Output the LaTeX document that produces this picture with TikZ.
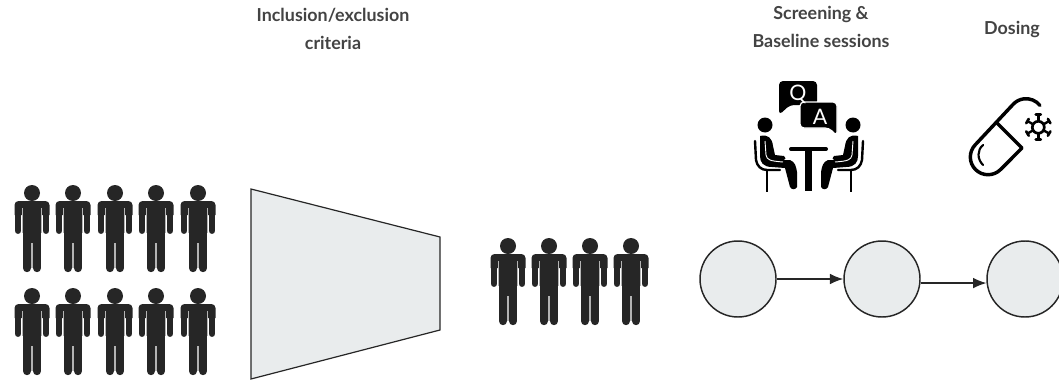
\documentclass[tikz,border=0pt]{standalone}
\usepackage{fontspec}
\setmainfont{Lato}[BoldFont={Lato Bold}]
\usetikzlibrary{arrows.meta}
\definecolor{ink}{HTML}{262626}
\definecolor{pale}{HTML}{E9ECED}
\definecolor{head}{HTML}{434343}
\definecolor{seam}{HTML}{B4B4B4}
\tikzset{
  x=0.75pt,y=-0.75pt,
  title/.style={font=\bfseries\fontsize{13.4pt}{21pt}\selectfont,text=head,align=center,inner sep=0},
  state/.style={circle,draw=ink,fill=pale,line width=1.1pt,minimum size=57pt,inner sep=0},
  link/.style={draw=ink,line width=1.1pt,-{Latex[length=10pt,width=8pt]}},
  icon/.style={draw=black,line width=2.6pt,line cap=round,line join=round},
  letter/.style={inner sep=0,text=white,font=\fontsize{16pt}{16pt}\selectfont},
  person/.pic={
    \fill[ink] (0,0) circle (8);
    \fill[ink,rounded corners=3pt] (-17.5,22) -- (-17.5,8) -- (17.5,8) -- (17.5,22);
    \fill[ink] (-9,10) rectangle (9,50);
    \draw[ink,line width=5.2pt,line cap=round] (-14,14) -- (-14,37.5);
    \draw[ink,line width=5.2pt,line cap=round] (14,14) -- (14,37.5);
    \draw[ink,line width=6.3pt,line cap=round] (-5,48) -- (-5,75);
    \draw[ink,line width=6.3pt,line cap=round] (5,48) -- (5,75);
    \fill[seam] (-10.2,15) rectangle (-9,40);
    \fill[seam] (9,15) rectangle (10.2,40);
    \fill[seam] (-0.8,50) rectangle (0.8,75);
  }
}
\begin{document}
\begin{tikzpicture}
\useasboundingbox (0,0) rectangle (1059,382);
% titles
\node[title] (t1) at (333,29) {Inclusion/exclusion\\criteria};
\node[title] (t2) at (821,27) {Screening \&\\Baseline sessions};
\node[title] (t3) at (1012,29) {Dosing};
% crowd
\foreach \px in {32,73,115,156,198} {
  \pic at (\px,193) {person};
  \pic at (\px,296) {person};
}
\foreach \px in {508,549,590,631} {
  \pic at (\px,246) {person};
}
% funnel
\draw[ink,fill=pale,line width=0.9pt,line join=miter] (251,189) -- (440,237) -- (440,330) -- (251,379) -- cycle;
% states
\node[state] (c1) at (738,279) {};
\node[state] (c2) at (882,279) {};
\node[state] (c3) at (1025,279) {};
\draw[link] (c1) -- (c2);
\draw[link] (c2.-6) -- (c3.186);
% Q and A icon
\fill[black,rounded corners=3pt] (779,81) -- (817,81) -- (817,105) -- (790,105) -- (779,115) -- cycle;
\fill[black,draw=white,line width=0.9pt,rounded corners=3pt] (800,102) -- (837,102) -- (837,136) -- (829,128) -- (800,128) -- cycle;
\node[letter] (qq) at (798,94) {Q};
\node[letter] (aa) at (820,117) {A};
\fill[black] (765,125) circle (7.5);
\fill[black] (853,125) circle (7.5);
\draw[icon,line width=3pt] (791,149) -- (826,149);
\fill[black] (805,150) rectangle (812,191);
% seated figures
\fill[black] (760,136) .. controls (768,134) and (772,138) .. (773,146) -- (775,155) -- (784,156) .. controls (786,158) and (786,159) .. (784,160) -- (790,160) .. controls (795,162) and (796,166) .. (797,172) -- (797,187) .. controls (795,190) and (792,190) .. (790,187) -- (785,168) -- (772,167) .. controls (763,167) and (760,162) .. (760,156) -- cycle;
\fill[black] (858,136) .. controls (850,134) and (846,138) .. (845,146) -- (843,155) -- (834,156) .. controls (832,158) and (832,159) .. (834,160) -- (828,160) .. controls (823,162) and (822,166) .. (821,172) -- (821,187) .. controls (823,190) and (826,190) .. (828,187) -- (833,168) -- (846,167) .. controls (855,167) and (858,162) .. (858,156) -- cycle;
\draw[white,line width=0.7pt] (765,141) -- (766,155) .. controls (767,160) and (770,161) .. (783,162);
\draw[white,line width=0.7pt] (853,141) -- (852,155) .. controls (851,160) and (848,161) .. (835,162);
% chairs
\draw[icon,line width=1.8pt] (755,141) -- (756,160) .. controls (757,166) and (761,170) .. (767,170) -- (780,170);
\draw[icon,line width=1.8pt] (863,141) -- (862,160) .. controls (861,166) and (857,170) .. (851,170) -- (838,170);
\draw[icon,line width=1.6pt,line cap=butt] (767,170) -- (767,192);
\draw[icon,line width=1.6pt,line cap=butt] (851,170) -- (851,192);
% pill icon
\draw[icon] (1040,105.5) arc[start angle=-38,end angle=-135,radius=17.7] -- (975.5,144.5) arc[start angle=225,end angle=45,radius=17.7] -- (1022,148);
\draw[icon] (997,123) -- (1022,148);
\draw[icon,line width=1.6pt] (983,145) .. controls (977,150) and (977,159) .. (983,165);
% virus
\draw[black,line width=2pt] (1038.3,127.3) circle (6);
\foreach \a in {-90,-30,30,90,150,210} {
  \draw[black,line width=1.8pt,shift={(1038.3,127.3)},rotate=\a] (6,0) -- (12,0);
  \draw[black,line width=2pt,line cap=round,shift={(1038.3,127.3)},rotate=\a] (12.5,-2.5) -- (12.5,2.5);
}
\end{tikzpicture}
\end{document}
